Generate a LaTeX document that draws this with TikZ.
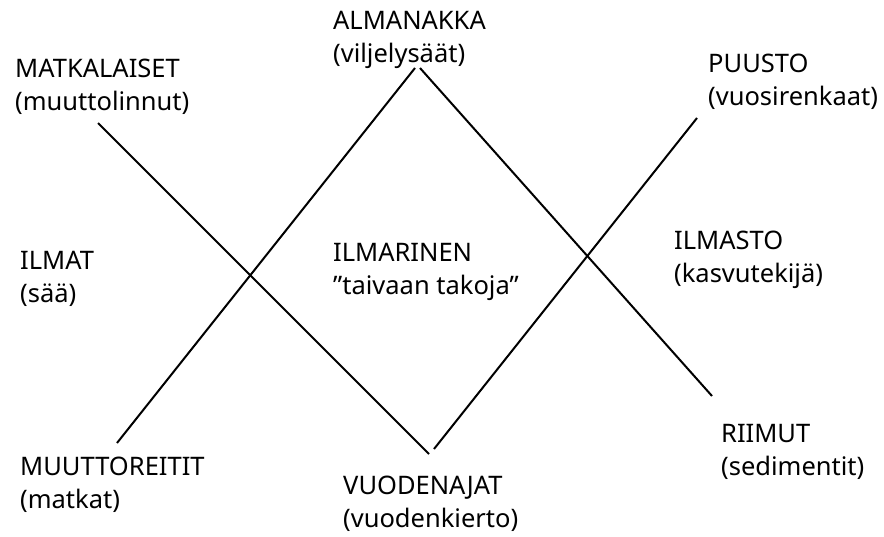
\documentclass[tikz,border=0pt]{standalone}
\usepackage{fontspec}
\setmainfont{Noto Sans}
\begin{document}
\begin{tikzpicture}[x=1pt,y=-1pt,
  lbl/.style={anchor=base west,inner sep=0pt,align=left,font=\fontsize{25.5}{33}\selectfont},
  ln/.style={line width=2pt,black}]
\useasboundingbox (0,0) rectangle (884,536);
% labels (anchor = baseline of the second line)
\node[lbl] (matk) at (15,110) {MATKALAISET\\(muuttolinnut)};
\node[lbl] (alma) at (333,62) {ALMANAKKA\\(viljelysäät)};
\node[lbl] (puus) at (708,105) {PUUSTO\\(vuosirenkaat)};
\node[lbl] (ilmat) at (20,302) {ILMAT\\(sää)};
\node[lbl] (ilmar) at (333,294) {ILMARINEN\\”taivaan takoja”};
\node[lbl] (ilmas) at (674,282) {ILMASTO\\(kasvutekijä)};
\node[lbl] (muut) at (20,508) {MUUTTOREITIT\\(matkat)};
\node[lbl] (vuod) at (343,527) {VUODENAJAT\\(vuodenkierto)};
\node[lbl] (riim) at (721,475) {RIIMUT\\(sedimentit)};
% line end points
\coordinate (a1) at (98,123);
\coordinate (a2) at (429,454);
\coordinate (b1) at (434,449);
\coordinate (b2) at (697,118);
\coordinate (c1) at (117,443);
\coordinate (c2) at (415,68);
\coordinate (d1) at (420,68);
\coordinate (d2) at (712,396);
\draw[ln] (a1) -- (a2);
\draw[ln] (b1) -- (b2);
\draw[ln] (c1) -- (c2);
\draw[ln] (d1) -- (d2);
\end{tikzpicture}
\end{document}
